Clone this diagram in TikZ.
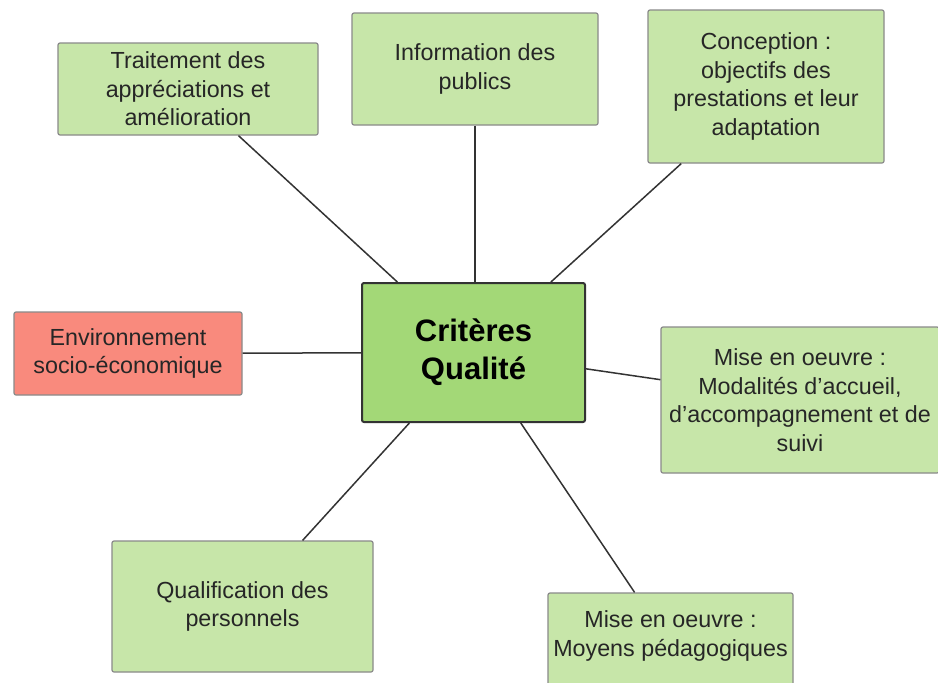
\documentclass[tikz,border=0pt]{standalone}
\usepackage{fontspec}
\setmainfont{Liberation Sans}
\definecolor{lightg}{HTML}{C7E6A9}
\definecolor{midg}{HTML}{A3D877}
\definecolor{salmon}{HTML}{F98A7D}
\definecolor{edgeg}{HTML}{8A8A8A}
\definecolor{linec}{HTML}{333333}
\begin{document}
\begin{tikzpicture}[x=1pt,y=-1pt,
  box/.style={draw=edgeg, line width=1.2pt, fill=lightg, rounded corners=2pt,
    align=center, inner sep=0pt, font=\fontsize{23.3}{28.5}\selectfont, text=black!85},
  redbox/.style={box, fill=salmon},
  central/.style={draw=linec, line width=2pt, fill=midg, rounded corners=2pt,
    align=center, inner sep=0pt, font=\fontsize{31}{38}\selectfont\bfseries},
  txt/.style={align=center, inner sep=0pt, font=\fontsize{23.3}{28.5}\selectfont, text=black!85},
  conn/.style={draw=linec, line width=1.5pt}]
\useasboundingbox (0,0) rectangle (938,683);
\fill[white] (0,0) rectangle (938,683);

\node[central, minimum width=223pt, minimum height=139pt] (crit) at (473.5,352.5) {Critères\\Qualité};

\node[box, minimum width=260pt, minimum height=92pt] (trait) at (188,89) {Traitement des\\appréciations et\\amélioration};
\node[box, minimum width=246pt, minimum height=112pt] (info) at (475,69) {Information des\\publics};
\node[box, minimum width=236pt, minimum height=153pt] (conc) at (766,86.5) {Conception :\\objectifs des\\prestations et leur\\adaptation};
\node[redbox, minimum width=228pt, minimum height=83pt] (env) at (128,353.5) {Environnement\\socio-économique};
\node[box, minimum width=278pt, minimum height=146pt] (moda) at (800,400) {Mise en oeuvre :\\Modalités d’accueil,\\d’accompagnement et de\\suivi};
\node[box, minimum width=261pt, minimum height=131pt] (qual) at (242.5,606.5) {Qualification des\\personnels};
\node[box, minimum width=245pt, minimum height=106pt] (moy) at (670.5,646) {};
\node[txt] (moyt) at (670.5,636) {Mise en oeuvre :\\Moyens pédagogiques};

\draw[conn] (trait) -- (crit);
\draw[conn] (info.south) -- (info.south |- crit.north);
\draw[conn] (conc) -- (crit);
\draw[conn] (env) -- (crit);
\draw[conn] (moda) -- (crit);
\draw[conn] (qual) -- (crit);
\draw[conn] (moy) -- (crit);
\end{tikzpicture}
\end{document}
